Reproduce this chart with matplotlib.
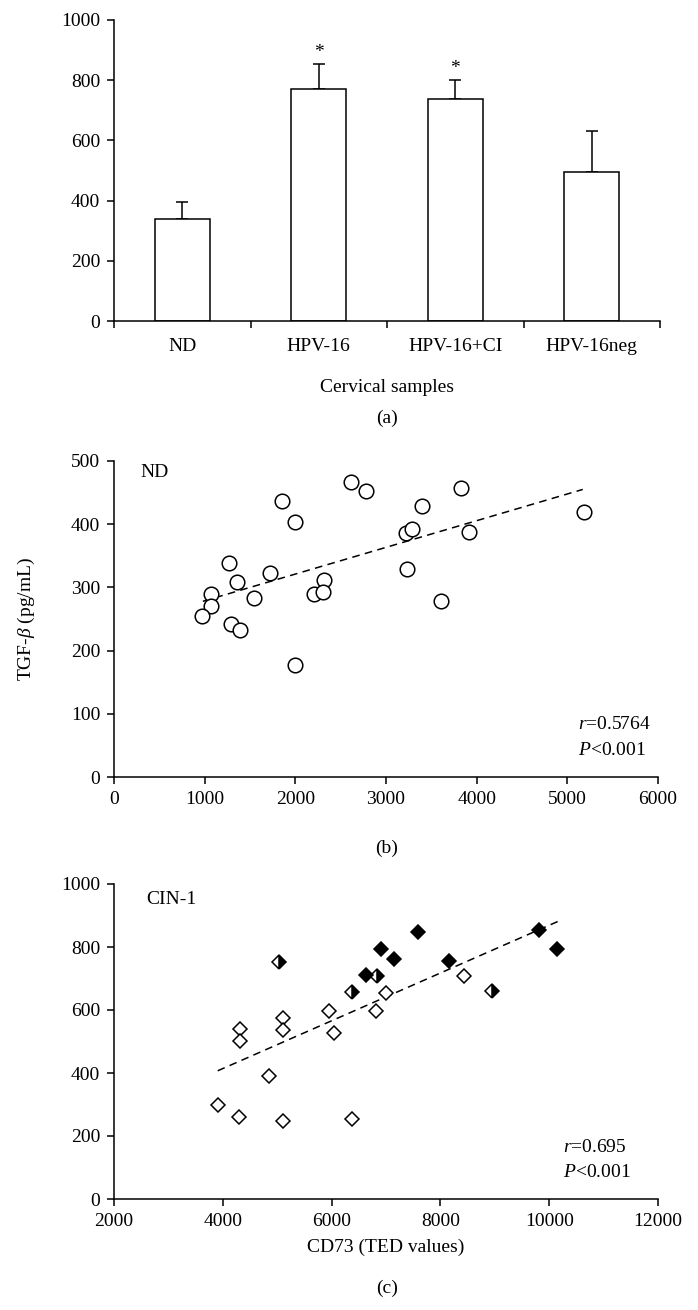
import numpy as np
import matplotlib
matplotlib.use("Agg")
import matplotlib.pyplot as plt

plt.rcParams['font.family'] = ['Liberation Serif', 'DejaVu Serif']
plt.rcParams['mathtext.fontset'] = 'custom'
plt.rcParams['mathtext.rm'] = 'Liberation Serif'
plt.rcParams['mathtext.it'] = 'Liberation Serif:italic'
plt.rcParams['font.size'] = 14

# panel (a): bar chart
groups = ['ND', 'HPV-16', 'HPV-16+CI', 'HPV-16neg']
means = [338, 770, 736, 496]
errs = [58, 85, 66, 134]
stars = ['', '*', '*', '']

# panel (b): ND scatter, CD73 vs TGF-beta
nd_x = [2613, 2774, 3831, 1852, 3395, 5180, 2000, 3226, 3290, 3915,
        1273, 1717, 1353, 2313, 1074, 1548, 2211, 2300, 3235, 3611,
        1074, 972, 1290, 1387, 2000]
nd_y = [467, 452, 457, 437, 429, 419, 403, 386, 393, 388,
        339, 322, 309, 311, 290, 283, 289, 293, 329, 279,
        271, 255, 242, 232, 177]
nd_fit_x = [980, 5170]
nd_fit_y = [278, 455]

# panel (c): CIN-1 scatter
cin_full_x = [7591, 9806, 6902, 10137, 7148, 8167, 6641]
cin_full_y = [847, 855, 793, 794, 762, 754, 711]
cin_half_x = [5024, 6831, 6374, 8941]
cin_half_y = [752, 707, 658, 659]
cin_open_x = [8434, 6993, 5959, 6817, 5115, 4321, 5101, 6037, 4313,
              4855, 3906, 4300, 5115, 6381]
cin_open_y = [707, 653, 598, 596, 575, 539, 535, 528, 502,
              389, 297, 260, 249, 255]
cin_fit_x = [3906, 10158]
cin_fit_y = [407, 881]

W, H = 698, 1310
fig = plt.figure(figsize=(W / 100, H / 100), dpi=100)


def px_axes(left, right, top, bottom):
    return fig.add_axes([left / W, 1 - bottom / H, (right - left) / W, (bottom - top) / H])


def style(ax):
    for s in ['top', 'right']:
        ax.spines[s].set_visible(False)
    for s in ['left', 'bottom']:
        ax.spines[s].set_linewidth(1.1)
    ax.tick_params(direction='out', length=5, width=1.1, pad=5, labelsize=14)


# ---- (a)
ax1 = px_axes(114, 660, 20, 321)
style(ax1)
pos = np.arange(len(groups))
ax1.bar(pos, means, width=0.4, color='white', edgecolor='black', linewidth=1.1, zorder=2)
ax1.errorbar(pos, means, yerr=[np.zeros(len(errs)), errs], fmt='none', ecolor='black',
             elinewidth=1.1, capsize=4, capthick=1.1, zorder=1)
for p, m, e, s in zip(pos, means, errs, stars):
    if s:
        ax1.text(p, m + e + 38, s, ha='center', va='center', fontsize=14)
ax1.set_xlim(-0.5, 3.5)
ax1.set_ylim(0, 1000)
ax1.set_yticks(range(0, 1001, 200))
ax1.set_xticks(np.arange(-0.5, 3.6, 1))
ax1.set_xticklabels([])
ax1.set_xticks(pos, minor=True)
ax1.set_xticklabels(groups, minor=True)
ax1.tick_params(axis='x', which='minor', length=0, pad=12)
fig.text(387 / W, 1 - 387 / H, 'Cervical samples', ha='center', va='center', fontsize=14)
fig.text(387 / W, 1 - 418 / H, '(a)', ha='center', va='center', fontsize=14)

# ---- (b)
ax2 = px_axes(114, 658, 461, 777)
style(ax2)
ax2.plot(nd_fit_x, nd_fit_y, color='black', linestyle=(0, (5, 3.5)), linewidth=1.1)
ax2.plot(nd_x, nd_y, 'o', markersize=10.5, markerfacecolor='white', markeredgecolor='black',
         markeredgewidth=1.1, linestyle='none')
ax2.set_xlim(0, 6000)
ax2.set_ylim(0, 500)
ax2.set_xticks(range(0, 6001, 1000))
ax2.set_yticks(range(0, 501, 100))
ax2.set_ylabel(r'TGF-$\beta$ (pg/mL)', fontsize=14, labelpad=24)
ax2.text(0.048, 0.965, 'ND', transform=ax2.transAxes, ha='left', va='center', fontsize=14)
ax2.text(0.853, 0.165, r'$r$=0.5764', transform=ax2.transAxes, ha='left', va='center', fontsize=14)
ax2.text(0.853, 0.085, r'$P$<0.001', transform=ax2.transAxes, ha='left', va='center', fontsize=14)
fig.text(387 / W, 1 - 848 / H, '(b)', ha='center', va='center', fontsize=14)

# ---- (c)
ax3 = px_axes(114, 658, 884, 1199)
style(ax3)
ax3.plot(cin_fit_x, cin_fit_y, color='black', linestyle=(0, (5, 3.5)), linewidth=1.1)
mk = dict(marker='D', markersize=7, markeredgecolor='black', markeredgewidth=1.1, linestyle='none')
ax3.plot(cin_open_x, cin_open_y, markerfacecolor='white', **mk)
ax3.plot(cin_half_x, cin_half_y, markerfacecolor='black', fillstyle='right',
         markerfacecoloralt='white', **mk)
ax3.plot(cin_full_x, cin_full_y, markerfacecolor='black', **mk)
ax3.set_xlim(2000, 12000)
ax3.set_ylim(0, 1000)
ax3.set_xticks(range(2000, 12001, 2000))
ax3.set_yticks(range(0, 1001, 200))
ax3.set_xlabel('CD73 (TED values)', fontsize=14, labelpad=6)
ax3.text(0.06, 0.95, 'CIN-1', transform=ax3.transAxes, ha='left', va='center', fontsize=14)
ax3.text(0.825, 0.165, r'$r$=0.695', transform=ax3.transAxes, ha='left', va='center', fontsize=14)
ax3.text(0.825, 0.083, r'$P$<0.001', transform=ax3.transAxes, ha='left', va='center', fontsize=14)
fig.text(387 / W, 1 - 1288 / H, '(c)', ha='center', va='center', fontsize=14)

fig.savefig('out.png', dpi=100)
